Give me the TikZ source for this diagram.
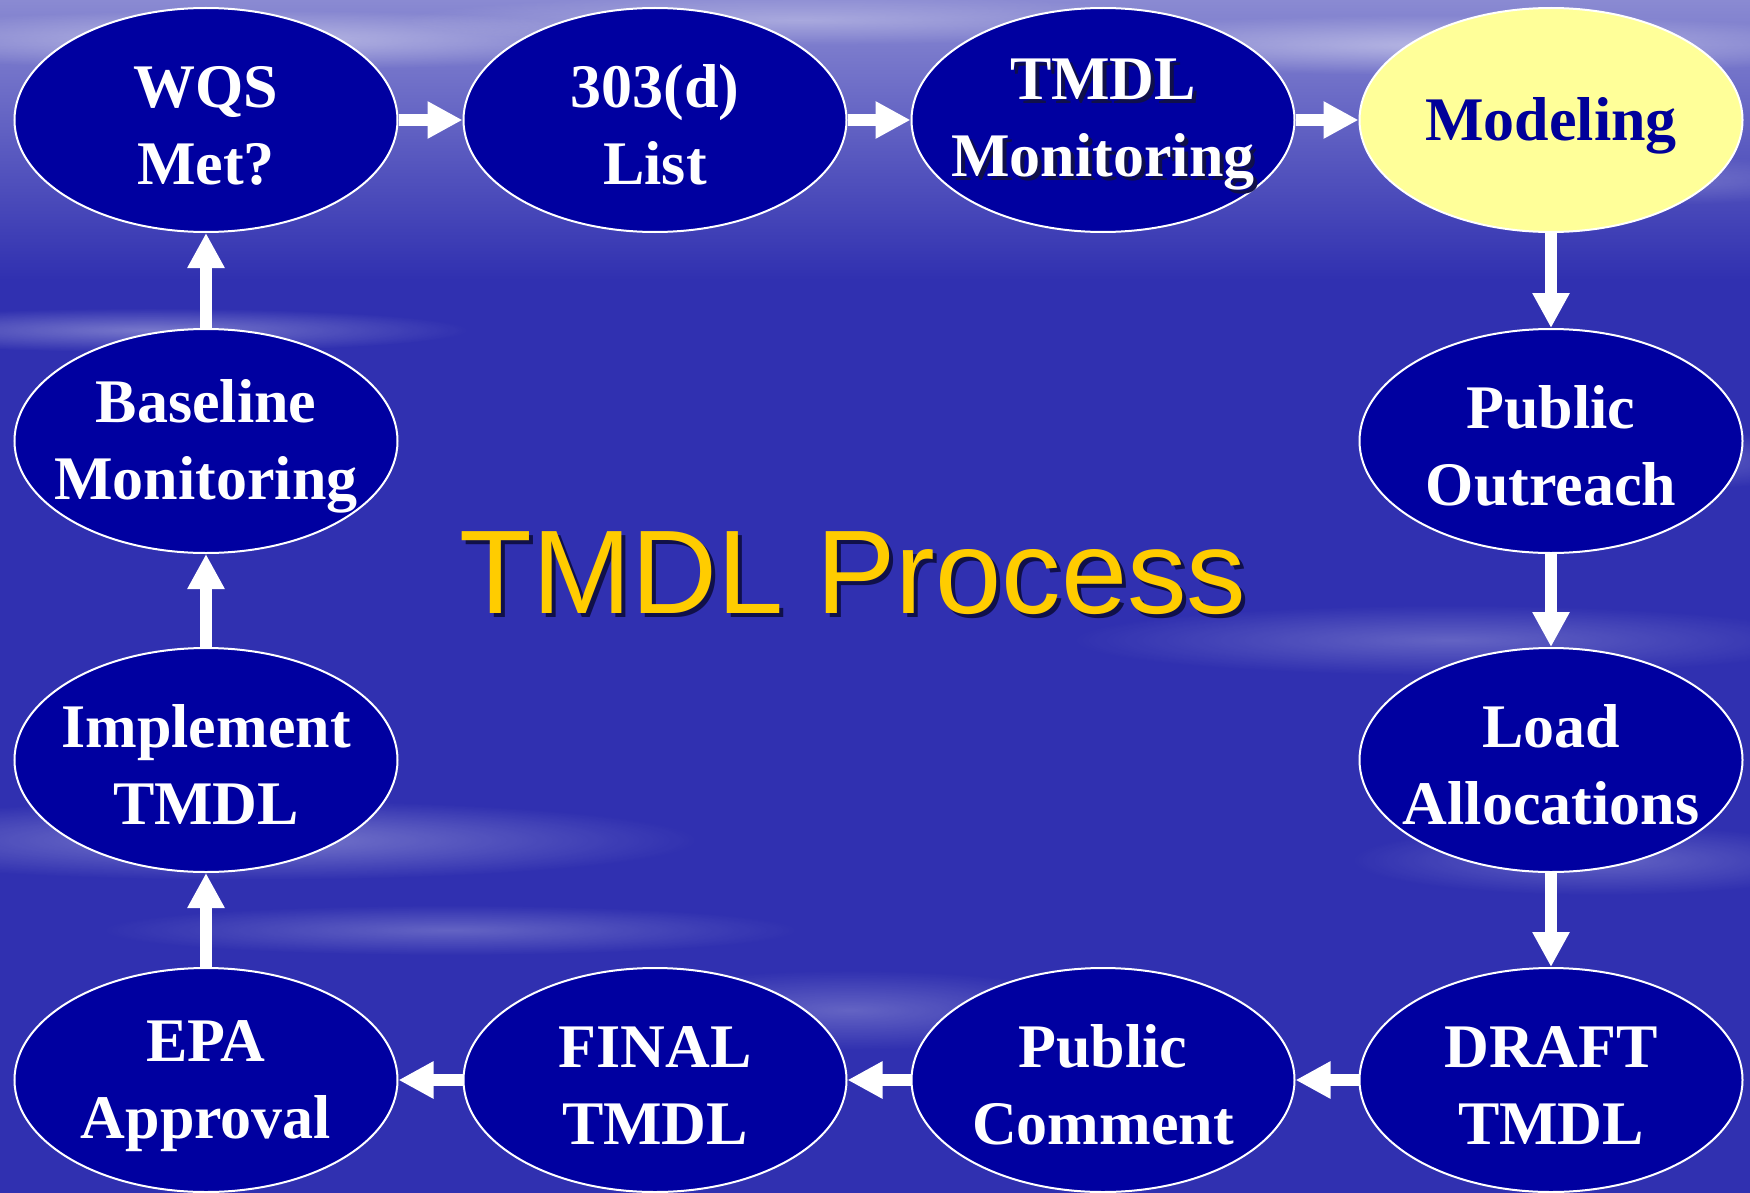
\documentclass[tikz,border=0pt]{standalone}
\usepackage{fontspec}
\setmainfont{Liberation Serif}
\newfontfamily\titlefont{Liberation Sans}
\usetikzlibrary{arrows.meta,shapes.geometric,fadings}
\definecolor{bgblue}{HTML}{3030B0}
\definecolor{bgtop}{HTML}{8A8AD2}
\definecolor{nodeblue}{HTML}{0000A0}
\definecolor{modelfill}{HTML}{FFFF99}
\definecolor{modeltext}{HTML}{000099}
\definecolor{titleyellow}{HTML}{FFCC00}
\definecolor{shadowc}{HTML}{10104A}
\tikzfading[name=fuzzy, inner color=transparent!0, outer color=transparent!100]
\newcommand\shtext[1]{\makebox[0pt][l]{\hspace{2pt}\raisebox{-2pt}{\textcolor{shadowc}{#1}}}#1}
\newcommand\tp{\rule{0pt}{26.5pt}}
\tikzset{
  bub/.style={ellipse, draw=white, line width=1pt, fill=nodeblue,
    minimum width=191.5pt, minimum height=112pt, inner xsep=-20pt, inner ysep=0pt,
    text=white, font=\fontsize{31}{38.5}\selectfont\bfseries, align=center},
  modelbub/.style={bub, fill=modelfill, text=modeltext},
  flow/.style={draw=white, line width=6pt, -{Triangle[length=17.5pt,width=17.5pt]}},
  streak/.style={white, fill opacity=#1, path fading=fuzzy},
  streak/.default=0.3
}
\begin{document}
\begin{tikzpicture}[x=0.5pt,y=-0.5pt]
\useasboundingbox (0,0) rectangle (1750,1193);
% background
\fill[bgblue] (0,0) rectangle (1750,1193);
\shade[top color=bgtop, bottom color=bgblue] (0,0) rectangle (1750,280);
\fill[streak=0.45] (250,40) ellipse [x radius=420, y radius=30];
\fill[streak=0.45] (1450,45) ellipse [x radius=450, y radius=30];
\fill[streak=0.3] (800,20) ellipse [x radius=400, y radius=25];
\fill[streak=0.35] (150,330) ellipse [x radius=320, y radius=22];
\fill[streak=0.25] (1650,460) ellipse [x radius=200, y radius=30];
\fill[streak=0.25] (1450,640) ellipse [x radius=380, y radius=35];
\fill[streak=0.35] (250,840) ellipse [x radius=450, y radius=40];
\fill[streak=0.25] (450,930) ellipse [x radius=350, y radius=25];
\fill[streak=0.25] (850,1010) ellipse [x radius=260, y radius=40];
\fill[streak=0.25] (1600,860) ellipse [x radius=250, y radius=35];
\fill[streak=0.2] (1650,180) ellipse [x radius=200, y radius=25];
% nodes
\node[bub] (wqs) at (206,120) {\tp WQS\\Met?};
\node[bub] (list) at (655,120) {\tp 303(d)\\List};
\node[bub] (tmon) at (1103,120) {\tp\shtext{TMDL}\\\shtext{Monitoring}};
\node[modelbub] (model) at (1551,120) {\rule{0pt}{27pt}Modeling};
\node[bub] (outreach) at (1551,441) {\tp Public\\Outreach};
\node[bub] (load) at (1551,760) {\tp Load\\Allocations};
\node[bub] (draft) at (1551,1080) {\tp DRAFT\\TMDL};
\node[bub] (comment) at (1103,1080) {\tp Public\\Comment};
\node[bub] (final) at (655,1080) {\tp FINAL\\TMDL};
\node[bub] (epa) at (206,1080) {\tp EPA\\Approval};
\node[bub] (impl) at (206,760) {\tp Implement\\TMDL};
\node[bub] (base) at (206,441) {\tp Baseline\\Monitoring};
% title
\node[font=\titlefont\fontsize{59.5}{60}\selectfont, text=titleyellow, anchor=base, inner sep=0pt] (title) at (853,613) {\shtext{TMDL Process}};
% connectors
\draw[flow] (wqs.east) -- (list.west);
\draw[flow] (list.east) -- (tmon.west);
\draw[flow] (tmon.east) -- (model.west);
\draw[flow] (model.south) -- (outreach.north);
\draw[flow] (outreach.south) -- (load.north);
\draw[flow] (load.south) -- (draft.north);
\draw[flow] (draft.west) -- (comment.east);
\draw[flow] (comment.west) -- (final.east);
\draw[flow] (final.west) -- (epa.east);
\draw[flow] (epa.north) -- (impl.south);
\draw[flow] (impl.north) -- (base.south);
\draw[flow] (base.north) -- (wqs.south);
\end{tikzpicture}
\end{document}
